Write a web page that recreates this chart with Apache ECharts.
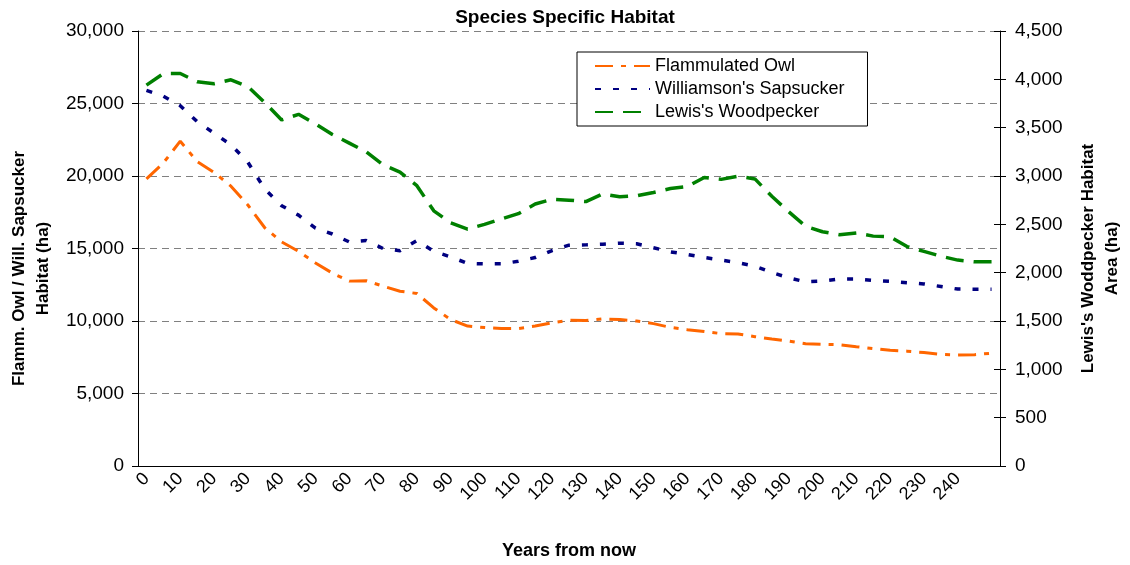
<!DOCTYPE html>
<html>
<head>
<meta charset="utf-8">
<script src="https://cdn.jsdelivr.net/npm/echarts@6/dist/echarts.min.js"></script>
<style>
  html, body { margin: 0; padding: 0; background: #fff; }
  #chart { width: 1130px; height: 565px; }
</style>
</head>
<body>
<div id="chart"></div>
<script>
// years from now, one category every 5 years
const years = [0, 5, 10, 15, 20, 25, 30, 35, 40, 45, 50, 55, 60, 65, 70, 75, 80, 85, 90, 95,
  100, 105, 110, 115, 120, 125, 130, 135, 140, 145, 150, 155, 160, 165, 170, 175, 180, 185, 190, 195,
  200, 205, 210, 215, 220, 225, 230, 235, 240, 245, 250];

// habitat (ha), left axis
const flammulatedOwl = [19800, 20900, 22400, 21000, 20250, 19300, 18000, 16430, 15450, 14800,
  14000, 13300, 12750, 12780, 12400, 12050, 11900, 10900, 10100, 9650,
  9550, 9480, 9480, 9650, 9880, 10050, 10030, 10140, 10100, 10000,
  9820, 9560, 9400, 9280, 9130, 9100, 8920, 8760, 8620, 8430,
  8395, 8370, 8230, 8100, 7980, 7920, 7820, 7700, 7660, 7680, 7780];

const williamsonsSapsucker = [25900, 25500, 24850, 23750, 22950, 22150, 20950, 19100, 17950, 17300,
  16400, 16000, 15450, 15550, 15000, 14850, 15550, 14800, 14420, 13970,
  13940, 13940, 14120, 14375, 14860, 15230, 15250, 15300, 15365, 15330,
  15050, 14770, 14590, 14380, 14200, 14020, 13780, 13340, 12980, 12700,
  12750, 12900, 12900, 12800, 12730, 12640, 12560, 12380, 12200, 12190, 12190];

// habitat area (ha), right axis
const lewissWoodpecker = [3940, 4060, 4060, 3975, 3955, 3995, 3925, 3760, 3580, 3638,
  3540, 3430, 3340, 3250, 3115, 3040, 2900, 2640, 2515, 2450,
  2500, 2555, 2610, 2710, 2760, 2750, 2735, 2815, 2785, 2795,
  2830, 2870, 2890, 2985, 2965, 2997, 2970, 2790, 2630, 2480,
  2423, 2392, 2410, 2378, 2370, 2270, 2220, 2170, 2130, 2113, 2113];

const chart = echarts.init(document.getElementById('chart'));
const font = 'Liberation Sans, Arial, sans-serif';
const fmt = v => v.toLocaleString('en-US');

const option = {
  backgroundColor: '#fff',
  animation: false,
  textStyle: { fontFamily: font, color: '#000' },
  title: {
    text: 'Species Specific Habitat',
    left: 'center',
    top: 3,
    textStyle: { fontFamily: font, fontSize: 19, fontWeight: 'bold', color: '#000' }
  },
  legend: {
    orient: 'vertical',
    left: 577,
    top: 52,
    itemWidth: 55,
    itemHeight: 12,
    itemGap: 5,
    padding: [5, 23, 5, 17],
    borderColor: '#000',
    borderWidth: 1,
    backgroundColor: '#fff',
    itemStyle: { opacity: 0 },
    textStyle: { fontFamily: font, fontSize: 18, color: '#000' },
    data: ['Flammulated Owl', "Williamson's Sapsucker", "Lewis's Woodpecker"]
  },
  grid: { left: 138, right: 130, top: 31, bottom: 99, outerBoundsMode: 'none' },
  xAxis: {
    type: 'category',
    data: years,
    boundaryGap: true,
    name: 'Years from now',
    nameLocation: 'middle',
    nameGap: 76,
    nameTextStyle: { fontFamily: font, fontSize: 18, fontWeight: 'bold', color: '#000' },
    axisLine: { lineStyle: { color: '#000', width: 1 } },
    axisTick: { interval: 0, length: 6, lineStyle: { color: '#000' } },
    axisLabel: {
      interval: (i) => i % 2 === 0 && i < 50,
      rotate: 45,
      margin: 10,
      fontFamily: font,
      fontSize: 18,
      color: '#000'
    },
    splitLine: { show: false }
  },
  yAxis: [
    {
      type: 'value',
      min: 0,
      max: 30000,
      interval: 5000,
      position: 'left',
      name: 'Flamm. Owl / Will. Sapsucker\nHabitat (ha)',
      nameLocation: 'middle',
      nameRotate: 90,
      nameGap: 83,
      nameTextStyle: { fontFamily: font, fontSize: 17, fontWeight: 'bold', color: '#000', lineHeight: 24, padding: [0, 0, 0, -40] },
      axisLine: { show: true, lineStyle: { color: '#000', width: 1 } },
      axisTick: { show: true, length: 6, lineStyle: { color: '#000' } },
      axisLabel: { formatter: fmt, margin: 14, fontFamily: font, fontSize: 19, color: '#000' },
      splitLine: { show: true, lineStyle: { color: '#808080', type: [7, 5], width: 1 } }
    },
    {
      type: 'value',
      min: 0,
      max: 4500,
      interval: 500,
      position: 'right',
      name: "Lewis's Woddpecker Habitat\nArea (ha)",
      nameLocation: 'middle',
      nameRotate: 90,
      nameGap: 76,
      nameTextStyle: { fontFamily: font, fontSize: 17, fontWeight: 'bold', color: '#000', lineHeight: 24, padding: [0, 0, 0, -20] },
      axisLine: { show: true, lineStyle: { color: '#000', width: 1 } },
      axisTick: { show: true, length: 6, lineStyle: { color: '#000' } },
      axisLabel: { formatter: fmt, margin: 15, fontFamily: font, fontSize: 19, color: '#000' },
      splitLine: { show: false }
    },
    {
      // inner half of the crossing ticks on the right axis
      type: 'value',
      min: 0,
      max: 4500,
      interval: 500,
      position: 'right',
      axisLine: { show: false },
      axisTick: { show: true, inside: true, length: 6, lineStyle: { color: '#000' } },
      axisLabel: { show: false },
      splitLine: { show: false }
    }
  ],
  series: [
    {
      name: 'Flammulated Owl',
      type: 'line',
      yAxisIndex: 0,
      data: flammulatedOwl,
      symbol: 'none',
      color: '#FF6600',
      lineStyle: { color: '#FF6600', width: 3, type: [18, 8, 5, 8] }
    },
    {
      name: "Williamson's Sapsucker",
      type: 'line',
      yAxisIndex: 0,
      data: williamsonsSapsucker,
      symbol: 'none',
      color: '#000080',
      lineStyle: { color: '#000080', width: 3.5, type: [6, 12] }
    },
    {
      name: "Lewis's Woodpecker",
      type: 'line',
      yAxisIndex: 1,
      data: lewissWoodpecker,
      symbol: 'none',
      color: '#008000',
      lineStyle: { color: '#008000', width: 3.5, type: [18, 10] }
    }
  ]
};

chart.setOption(option);
window.addEventListener('resize', () => chart.resize());
</script>
</body>
</html>
